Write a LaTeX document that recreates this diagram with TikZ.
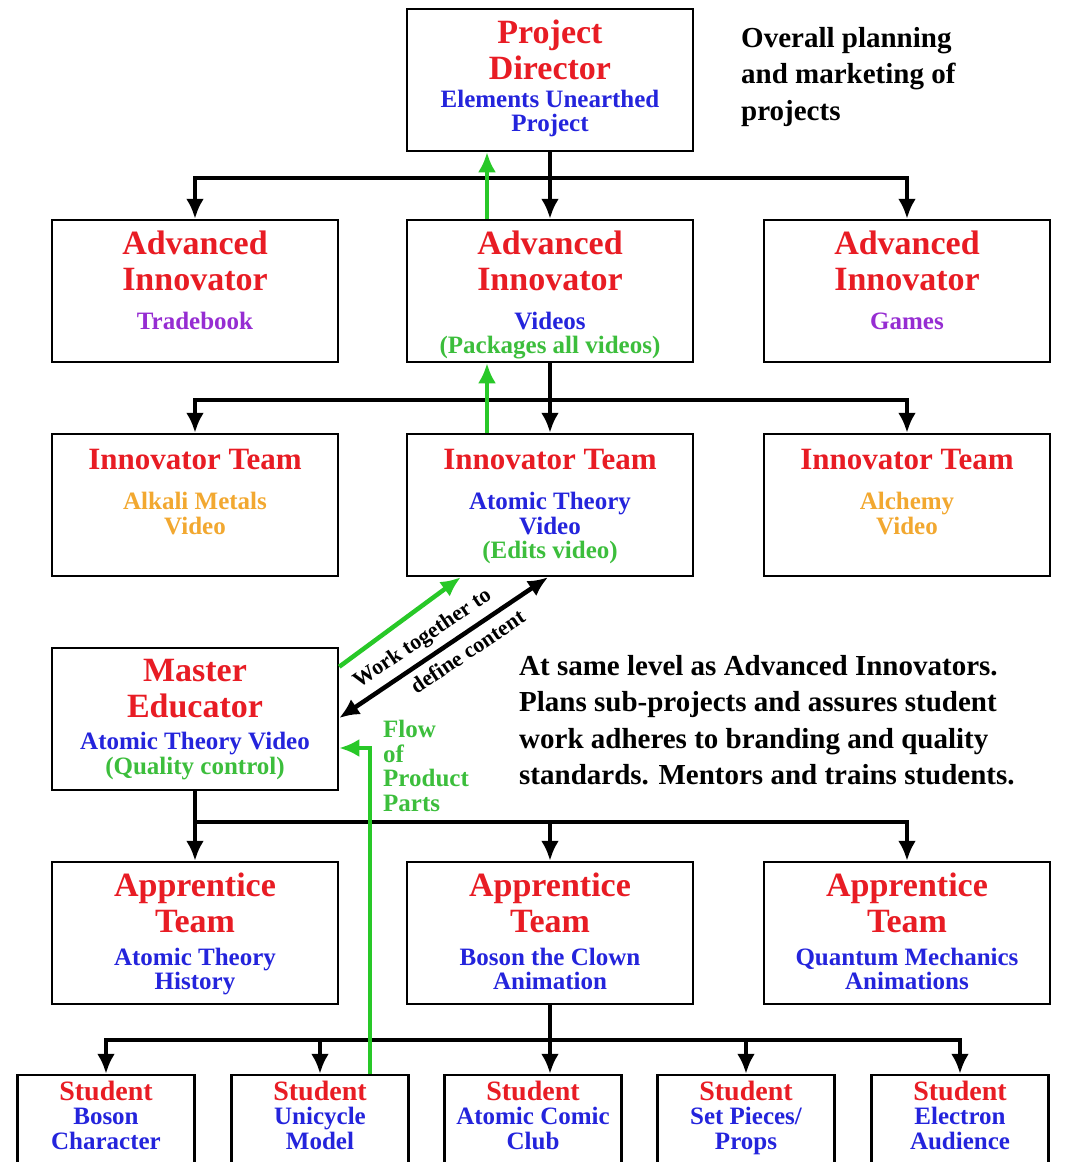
\documentclass[tikz,border=0pt]{standalone}
\usepackage{fontspec}
\setmainfont{Liberation Serif}
\usepackage{xcolor}
\usepackage{tikz}
\usetikzlibrary{arrows.meta,calc}

\definecolor{titlered}{RGB}{232,28,36}
\definecolor{subblue}{RGB}{36,36,220}
\definecolor{subpurple}{RGB}{150,45,210}
\definecolor{suborange}{RGB}{242,168,48}
\definecolor{flowgreen}{RGB}{40,200,40}
\definecolor{notegreen}{RGB}{60,190,60}

\newcommand{\bigttl}{\fontsize{34}{36}\selectfont\color{titlered}}
\newcommand{\midttl}{\fontsize{31}{34}\selectfont\color{titlered}}
\newcommand{\stuttl}{\fontsize{28}{26}\selectfont\color{titlered}}
\newcommand{\subtxt}[1]{\fontsize{25}{24.5}\selectfont\color{#1}}

\begin{document}
\begin{tikzpicture}[x=1pt,y=-1pt,
      unit/.style={draw=black,line width=2.5pt,fill=white,inner sep=0pt,
                   minimum width=286pt,minimum height=142pt,
                   execute at begin node={\bfseries\begin{minipage}[c][120pt][t]{280pt}\centering},
                   execute at end node={\end{minipage}}},
      student/.style={draw=black,line width=2.5pt,fill=white,inner sep=0pt,
                   minimum width=177pt,minimum height=100pt,
                   execute at begin node={\bfseries\begin{minipage}[c][88pt][t]{172pt}\centering},
                   execute at end node={\end{minipage}}},
      note/.style={font=\bfseries\fontsize{29}{36.5}\selectfont,align=left,inner sep=0pt},
      wire/.style={line width=4.5pt},
      arr/.style={-{Latex[length=20pt,width=18pt]},line width=4.5pt},
      garr/.style={arr,color=flowgreen},
      darr/.style={{Latex[length=20pt,width=18pt]}-{Latex[length=20pt,width=18pt]},line width=4.5pt}
    ]
      \useasboundingbox (0,0) rectangle (1089,1162);
      % Director
      \node[unit] (dir) at (550,80) {{\bigttl Project\\Director\par}\vspace{3pt}
        {\subtxt{subblue}Elements Unearthed\\Project\par}};
      \node[note,anchor=north west] (plan) at (741,27) {Overall planning\\and marketing of\\projects};
      % Advanced innovators
      \node[unit] (adv1) at (195,291) {{\bigttl Advanced\\Innovator\par}\vspace{14pt}
        {\subtxt{subpurple}Tradebook\par}};
      \node[unit] (adv2) at (550,291) {{\bigttl Advanced\\Innovator\par}\vspace{14pt}
        {\subtxt{subblue}Videos\par\color{notegreen}(Packages all videos)\par}};
      \node[unit] (adv3) at (907,291) {{\bigttl Advanced\\Innovator\par}\vspace{14pt}
        {\subtxt{subpurple}Games\par}};
      % Innovator teams
      \node[unit] (inn1) at (195,505) {\vspace{4pt}{\midttl Innovator Team\par}\vspace{16pt}
        {\subtxt{suborange}Alkali Metals\\Video\par}};
      \node[unit] (inn2) at (550,505) {\vspace{4pt}{\midttl Innovator Team\par}\vspace{16pt}
        {\subtxt{subblue}Atomic Theory\\Video\par\color{notegreen}(Edits video)\par}};
      \node[unit] (inn3) at (907,505) {\vspace{4pt}{\midttl Innovator Team\par}\vspace{16pt}
        {\subtxt{suborange}Alchemy\\Video\par}};
      % Master educator
      \node[unit] (master) at (195,719) {{\bigttl Master\\Educator\par}\vspace{8pt}
        {\subtxt{subblue}Atomic Theory Video\par\color{notegreen}(Quality control)\par}};
      \node[note,anchor=north west] (level) at (519,655) {At same level as Advanced Innovators.\\
        Plans sub-projects and assures student\\work adheres to branding and quality\\
        standards. Mentors and trains students.};
      \node[note,anchor=north west,text=notegreen,font=\bfseries\fontsize{25}{24.5}\selectfont]
        (flow) at (383,720) {Flow\\of\\Product\\Parts};
      % Apprentice teams
      \node[unit] (app1) at (195,933) {{\bigttl Apprentice\\Team\par}\vspace{8pt}
        {\subtxt{subblue}Atomic Theory\\History\par}};
      \node[unit] (app2) at (550,933) {{\bigttl Apprentice\\Team\par}\vspace{8pt}
        {\subtxt{subblue}Boson the Clown\\Animation\par}};
      \node[unit] (app3) at (907,933) {{\bigttl Apprentice\\Team\par}\vspace{8pt}
        {\subtxt{subblue}Quantum Mechanics\\Animations\par}};
      % Students
      \node[student] (stu1) at (106,1125) {{\stuttl Student\par}{\subtxt{subblue}Boson\\Character\par}};
      \node[student] (stu2) at (320,1125) {{\stuttl Student\par}{\subtxt{subblue}Unicycle\\Model\par}};
      \node[student] (stu3) at (533,1125) {{\stuttl Student\par}{\subtxt{subblue}Atomic Comic\\Club\par}};
      \node[student] (stu4) at (746,1125) {{\stuttl Student\par}{\subtxt{subblue}Set Pieces/\\Props\par}};
      \node[student] (stu5) at (960,1125) {{\stuttl Student\par}{\subtxt{subblue}Electron\\Audience\par}};
      % Reporting lines
      \coordinate (b1) at (550,178);
      \draw[wire] (dir) -- (b1);
      \draw[arr] (b1) -| (adv1); \draw[arr] (b1) -- (adv2); \draw[arr] (b1) -| (adv3);
      \coordinate (b2) at (550,400);
      \draw[wire] (adv2) -- (b2);
      \draw[arr] (b2) -| (inn1); \draw[arr] (b2) -- (inn2); \draw[arr] (b2) -| (inn3);
      \coordinate (b3) at (195,822);
      \draw[wire] (master) -- (b3);
      \draw[arr] (b3) -- (app1); \draw[arr] (b3) -| (app2); \draw[arr] (b3) -| (app3);
      \coordinate (b4) at (550,1040);
      \draw[wire] (app2) -- (b4);
      \draw[arr] (b4) -| (stu1); \draw[arr] (b4) -| (stu2); \draw[arr] (b4) -- (b4 |- stu3.north);
      \draw[arr] (b4) -| (stu4); \draw[arr] (b4) -| (stu5);
      % Product flow
      \draw[garr] ($(adv2.north)+(-63,0)$) -- ($(dir.south)+(-63,0)$);
      \draw[garr] ($(inn2.north)+(-63,0)$) -- ($(adv2.south)+(-63,0)$);
      \draw[garr] ($(stu2.north)+(50,0)$) |- ($(master.east)+(0,29)$);
      \draw[garr] ($(master.north east)+(0,20)$) -- ($(inn2.south west)+(55,0)$);
      \draw[darr] ($(master.east)+(0,-1)$) -- ($(inn2.south)+(-2,0)$)
        node[pos=0.45,sloped,above=3pt,font=\bfseries\fontsize{22}{24}\selectfont] (work) {Work together to}
        node[pos=0.57,sloped,below=3pt,font=\bfseries\fontsize{22}{24}\selectfont] (define) {define content};
    \end{tikzpicture}
\end{document}
